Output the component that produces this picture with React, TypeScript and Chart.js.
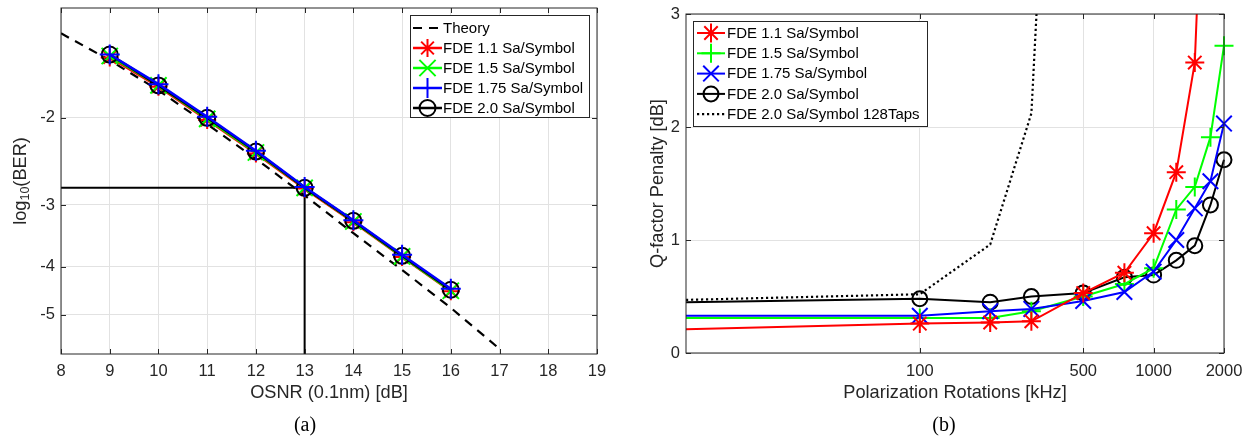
import React, { useEffect, useRef } from 'react';
import { Chart, registerables } from 'chart.js';
import { drawPoint } from 'chart.js/helpers';

Chart.register(...registerables);

// ---------------- Panel (a): BER vs OSNR ----------------
const osnrDb = [9, 10, 11, 12, 13, 14, 15, 16];
const logBerFde11 = [-1.51, -1.73, -2.02, -2.36, -2.78, -3.25, -3.82, -4.48];
const logBerFde15 = [-1.5, -1.72, -2.01, -2.35, -2.77, -3.24, -3.81, -4.47];
const logBerFde175 = [-1.49, -1.71, -1.99, -2.33, -2.76, -3.22, -3.78, -4.43];
const logBerFde20 = [-1.49, -1.72, -2.0, -2.34, -2.77, -3.23, -3.8, -4.45];
const theoryOsnrDb = [8, 9, 10, 11, 12, 13, 14, 15, 16, 17];
const theoryLogBer = [-1.35, -1.53, -1.76, -2.06, -2.42, -2.87, -3.42, -4.06, -4.84, -5.86];
const thresholdOsnrDb = [8, 13, 13];
const thresholdLogBer = [-2.77, -2.77, -6.0];
const osnrTickLabels = ['8', '9', '10', '11', '12', '13', '14', '15', '16', '17', '18', '19'];
const logBerTickLabels = ['-2', '-3', '-4', '-5'];

// ---------------- Panel (b): Q-penalty vs rotation speed ----------------
const rotationKHz = [10, 100, 200, 300, 500, 750, 1000, 1250, 1500, 1750, 2000];
const penaltyFde11 = [0.21, 0.26, 0.27, 0.28, 0.53, 0.71, 1.06, 1.6, 2.57, 6.0, null];
const penaltyFde15 = [0.31, 0.31, 0.31, 0.37, 0.5, 0.61, 0.75, 1.27, 1.47, 1.91, 2.72];
const penaltyFde175 = [0.33, 0.33, 0.37, 0.39, 0.46, 0.54, 0.72, 1.0, 1.28, 1.52, 2.03];
const penaltyFde20 = [0.45, 0.48, 0.45, 0.5, 0.53, 0.67, 0.69, 0.82, 0.95, 1.31, 1.71];
const penaltyFde20Taps128 = [0.47, 0.52, 0.96, 2.12, 11.0, null, null, null, null, null, null];
const rotationTickLabels = ['100', '500', '1000', '2000'];
const penaltyTickLabels = ['0', '1', '2', '3'];

const INK = '#262626';
const GRID = '#e2e2e2';
const FONT = '"Liberation Sans", Arial, Helvetica, sans-serif';
const SERIF = '"Liberation Serif", "Times New Roman", serif';
const W = 625;
const H = 438;

type Style = { label?: string; color: string; pointStyle: any; r: number; lw: number; dash?: number[] };

const hideFirst = (r: number) => (c: any) => (c.dataIndex === 0 ? 0 : r);

function overlayPlugin(cfg: any) {
  return {
    id: 'overlay' + cfg.id,
    afterDraw(chart: any) {
      const { ctx, chartArea: a } = chart;
      const xs = chart.scales.x;
      const ys = chart.scales.y;
      ctx.save();
      // inward ticks on all four sides
      ctx.strokeStyle = INK;
      ctx.lineWidth = 1;
      ctx.beginPath();
      const tl = 5;
      xs.ticks.forEach((t: any) => {
        const px = Math.round(xs.getPixelForValue(t.value)) + 0.5;
        ctx.moveTo(px, a.bottom);
        ctx.lineTo(px, a.bottom - tl);
        ctx.moveTo(px, a.top);
        ctx.lineTo(px, a.top + tl);
      });
      ys.ticks.forEach((t: any) => {
        const py = Math.round(ys.getPixelForValue(t.value)) + 0.5;
        ctx.moveTo(a.left, py);
        ctx.lineTo(a.left + tl, py);
        ctx.moveTo(a.right, py);
        ctx.lineTo(a.right - tl, py);
      });
      ctx.stroke();
      ctx.lineWidth = 1;
      ctx.strokeRect(a.left, a.top, a.right - a.left, a.bottom - a.top);

      // x title
      ctx.fillStyle = INK;
      ctx.font = `18.2px ${FONT}`;
      ctx.textAlign = 'center';
      ctx.textBaseline = 'middle';
      ctx.fillText(cfg.xTitle, (a.left + a.right) / 2, 393);

      // y title (rotated), pieces allow a subscript
      ctx.save();
      ctx.translate(cfg.yTitleX, (a.top + a.bottom) / 2);
      ctx.rotate(-Math.PI / 2);
      ctx.textAlign = 'left';
      ctx.textBaseline = 'alphabetic';
      let total = 0;
      cfg.yTitle.forEach((p: any) => {
        ctx.font = `${p.size}px ${FONT}`;
        p.w = ctx.measureText(p.text).width;
        total += p.w;
      });
      let tx = -total / 2;
      cfg.yTitle.forEach((p: any) => {
        ctx.font = `${p.size}px ${FONT}`;
        ctx.fillText(p.text, tx, 6.5 + (p.dy || 0));
        tx += p.w;
      });
      ctx.restore();

      // legend
      const L = cfg.legend;
      ctx.fillStyle = '#ffffff';
      ctx.fillRect(L.x, L.y, L.w, L.h);
      ctx.strokeStyle = INK;
      ctx.lineWidth = 1;
      ctx.strokeRect(L.x + 0.5, L.y + 0.5, L.w, L.h);
      cfg.series.forEach((s: Style, i: number) => {
        const y = L.row0 + i * L.dy;
        ctx.save();
        ctx.strokeStyle = s.color;
        ctx.lineWidth = s.lw;
        ctx.setLineDash(s.dash || []);
        ctx.beginPath();
        ctx.moveTo(L.s0, y);
        ctx.lineTo(L.s1, y);
        ctx.stroke();
        ctx.setLineDash([]);
        if (s.pointStyle) {
          ctx.fillStyle = 'rgba(0,0,0,0)';
          ctx.lineWidth = 2;
          drawPoint(ctx, { pointStyle: s.pointStyle, radius: s.r, borderWidth: 2, rotation: 0 } as any, (L.s0 + L.s1) / 2, y);
        }
        ctx.restore();
        ctx.fillStyle = '#000';
        ctx.font = `15px ${FONT}`;
        ctx.textAlign = 'left';
        ctx.textBaseline = 'middle';
        ctx.fillText(s.label, L.tx, y + 0.5);
      });

      // caption
      ctx.fillStyle = '#000';
      ctx.font = `20px ${SERIF}`;
      ctx.textAlign = 'center';
      ctx.textBaseline = 'alphabetic';
      ctx.fillText(cfg.caption, cfg.captionX, 431);
      ctx.restore();
    },
  };
}

function tickFont() {
  return { family: FONT, size: 16.5, lineHeight: 0.9 };
}

function lineDs(s: Style, pts: any[], order: number, radius: any) {
  return {
    label: s.label,
    data: pts,
    borderColor: s.color,
    backgroundColor: s.color,
    borderWidth: s.lw,
    borderDash: s.dash || [],
    pointStyle: s.pointStyle || false,
    pointRadius: s.pointStyle ? radius : 0,
    pointHoverRadius: 0,
    pointBorderColor: s.color,
    pointBackgroundColor: 'rgba(0,0,0,0)',
    pointBorderWidth: 2,
    tension: 0,
    order,
    spanGaps: false,
  };
}

function buildA(): any {
  const theory: Style = { label: 'Theory', color: '#000', pointStyle: null, r: 0, lw: 2.2, dash: [9, 7] };
  const s11: Style = { label: 'FDE 1.1 Sa/Symbol', color: '#ff0000', pointStyle: 'star', r: 9, lw: 2.5 };
  const s15: Style = { label: 'FDE 1.5 Sa/Symbol', color: '#00ff00', pointStyle: 'crossRot', r: 11.5, lw: 2.5 };
  const s175: Style = { label: 'FDE 1.75 Sa/Symbol', color: '#0000ff', pointStyle: 'cross', r: 10, lw: 2.5 };
  const s20: Style = { label: 'FDE 2.0 Sa/Symbol', color: '#000', pointStyle: 'circle', r: 8, lw: 2.5 };
  const thr: Style = { color: '#000', pointStyle: null, r: 0, lw: 2 };
  const pts = (ys: number[]) => osnrDb.map((x, i) => ({ x, y: -ys[i] }));
  const series = [theory, s11, s15, s175, s20];
  return {
    type: 'line',
    data: {
      datasets: [
        lineDs(thr, thresholdOsnrDb.map((x, i) => ({ x, y: -thresholdLogBer[i] })), 6, 0),
        lineDs(theory, theoryOsnrDb.map((x, i) => ({ x, y: -theoryLogBer[i] })), 5, 0),
        lineDs(s11, pts(logBerFde11), 4, s11.r),
        lineDs(s15, pts(logBerFde15), 3, s15.r),
        lineDs(s20, pts(logBerFde20), 2, s20.r),
        lineDs(s175, pts(logBerFde175), 1, s175.r),
      ],
    },
    options: {
      animation: false,
      responsive: false,
      events: [],
      layout: { autoPadding: false, padding: { top: 8, right: 28, left: 0, bottom: 0 } },
      plugins: { legend: { display: false }, title: { display: false }, tooltip: { enabled: false } },
      scales: {
        x: {
          type: 'linear',
          min: 8,
          max: 19,
          afterBuildTicks: (s: any) => {
            s.ticks = osnrTickLabels.map((l) => ({ value: Number(l) }));
          },
          afterFit: (s: any) => {
            s.height = H - 354;
            s.paddingLeft = 0;
            s.paddingRight = 0;
          },
          ticks: { font: tickFont(), color: INK, padding: 10.5, maxRotation: 0, autoSkip: false, callback: (v: any) => String(v) },
          grid: { color: GRID, drawTicks: false },
          border: { display: false },
        },
        y: {
          type: 'logarithmic',
          min: 1.2,
          max: 6,
          reverse: true,
          afterBuildTicks: (s: any) => {
            s.ticks = logBerTickLabels.map((l) => ({ value: -Number(l) }));
          },
          afterFit: (s: any) => {
            s.width = 61;
            s.paddingTop = 0;
            s.paddingBottom = 0;
          },
          ticks: { font: tickFont(), color: INK, padding: 6, autoSkip: false, callback: (v: any) => String(-v) },
          grid: { color: GRID, drawTicks: false },
          border: { display: false },
        },
      },
    },
    plugins: [
      overlayPlugin({
        id: 'a',
        xTitle: 'OSNR (0.1nm) [dB]',
        yTitleX: 19,
        yTitle: [
          { text: 'log', size: 18.2 },
          { text: '10', size: 12.5, dy: 3 },
          { text: '(BER)', size: 18.2 },
        ],
        legend: { x: 410, y: 15, w: 179, h: 102, row0: 28, dy: 20, s0: 413, s1: 442, tx: 443 },
        series,
        caption: '(a)',
        captionX: 305,
      }),
    ],
  };
}

function buildB(): any {
  const s11: Style = { label: 'FDE 1.1 Sa/Symbol', color: '#ff0000', pointStyle: 'star', r: 9.5, lw: 2 };
  const s15: Style = { label: 'FDE 1.5 Sa/Symbol', color: '#00ff00', pointStyle: 'cross', r: 9.5, lw: 2 };
  const s175: Style = { label: 'FDE 1.75 Sa/Symbol', color: '#0000ff', pointStyle: 'crossRot', r: 11, lw: 2 };
  const s20: Style = { label: 'FDE 2.0 Sa/Symbol', color: '#000', pointStyle: 'circle', r: 7.5, lw: 2 };
  const sTaps: Style = { label: 'FDE 2.0 Sa/Symbol 128Taps', color: '#000', pointStyle: null, r: 0, lw: 2.2, dash: [2.2, 2.8] };
  const pts = (ys: (number | null)[]) =>
    rotationKHz.map((x, i) => ({ x, y: ys[i] })).filter((p) => p.y !== null);
  const series = [s11, s15, s175, s20, sTaps];
  const clip = { left: 0, top: 0, right: 14, bottom: 0 };
  const ds = [
    lineDs(s11, pts(penaltyFde11), 0, hideFirst(s11.r)),
    lineDs(s15, pts(penaltyFde15), 2, hideFirst(s15.r)),
    lineDs(s175, pts(penaltyFde175), 1, hideFirst(s175.r)),
    lineDs(s20, pts(penaltyFde20), 3, hideFirst(s20.r)),
    lineDs(sTaps, pts(penaltyFde20Taps128), 4, 0),
  ].map((d: any) => ({ ...d, clip }));
  return {
    type: 'line',
    data: { datasets: ds },
    options: {
      animation: false,
      responsive: false,
      events: [],
      layout: { autoPadding: false, padding: { top: 14, right: 26, left: 0, bottom: 0 } },
      plugins: { legend: { display: false }, title: { display: false }, tooltip: { enabled: false } },
      scales: {
        x: {
          type: 'logarithmic',
          min: 10,
          max: 2000,
          afterBuildTicks: (s: any) => {
            s.ticks = rotationTickLabels.map((l) => ({ value: Number(l) }));
          },
          afterFit: (s: any) => {
            s.height = H - 353;
            s.paddingLeft = 0;
            s.paddingRight = 0;
          },
          ticks: { font: tickFont(), color: INK, padding: 11, maxRotation: 0, autoSkip: false, callback: (v: any) => String(v) },
          grid: { color: GRID, drawTicks: false },
          border: { display: false },
        },
        y: {
          type: 'linear',
          min: 0,
          max: 3,
          afterBuildTicks: (s: any) => {
            s.ticks = penaltyTickLabels.map((l) => ({ value: Number(l) }));
          },
          afterFit: (s: any) => {
            s.width = 61;
            s.paddingTop = 0;
            s.paddingBottom = 0;
          },
          ticks: { font: tickFont(), color: INK, padding: 6, autoSkip: false, callback: (v: any) => String(v) },
          grid: { color: GRID, drawTicks: false },
          border: { display: false },
        },
      },
    },
    plugins: [
      overlayPlugin({
        id: 'b',
        xTitle: 'Polarization Rotations [kHz]',
        yTitleX: 31,
        yTitle: [{ text: 'Q-factor Penalty [dB]', size: 18.2 }],
        legend: { x: 693 - W, y: 21, w: 234, h: 105, row0: 33, dy: 20.3, s0: 697 - W, s1: 725 - W, tx: 727 - W },
        series,
        caption: '(b)',
        captionX: 944 - W,
      }),
    ],
  };
}

export default function App() {
  const refA = useRef<HTMLCanvasElement | null>(null);
  const refB = useRef<HTMLCanvasElement | null>(null);
  useEffect(() => {
    const ca = new Chart(refA.current as HTMLCanvasElement, buildA());
    const cb = new Chart(refB.current as HTMLCanvasElement, buildB());
    return () => {
      ca.destroy();
      cb.destroy();
    };
  }, []);
  return (
    <div style={{ position: 'absolute', left: 0, top: 0, width: 1250, height: 438, background: '#fff' }}>
      <canvas ref={refA} width={W} height={H} style={{ position: 'absolute', left: 0, top: 0, width: W, height: H }} />
      <canvas ref={refB} width={W} height={H} style={{ position: 'absolute', left: W, top: 0, width: W, height: H }} />
    </div>
  );
}
